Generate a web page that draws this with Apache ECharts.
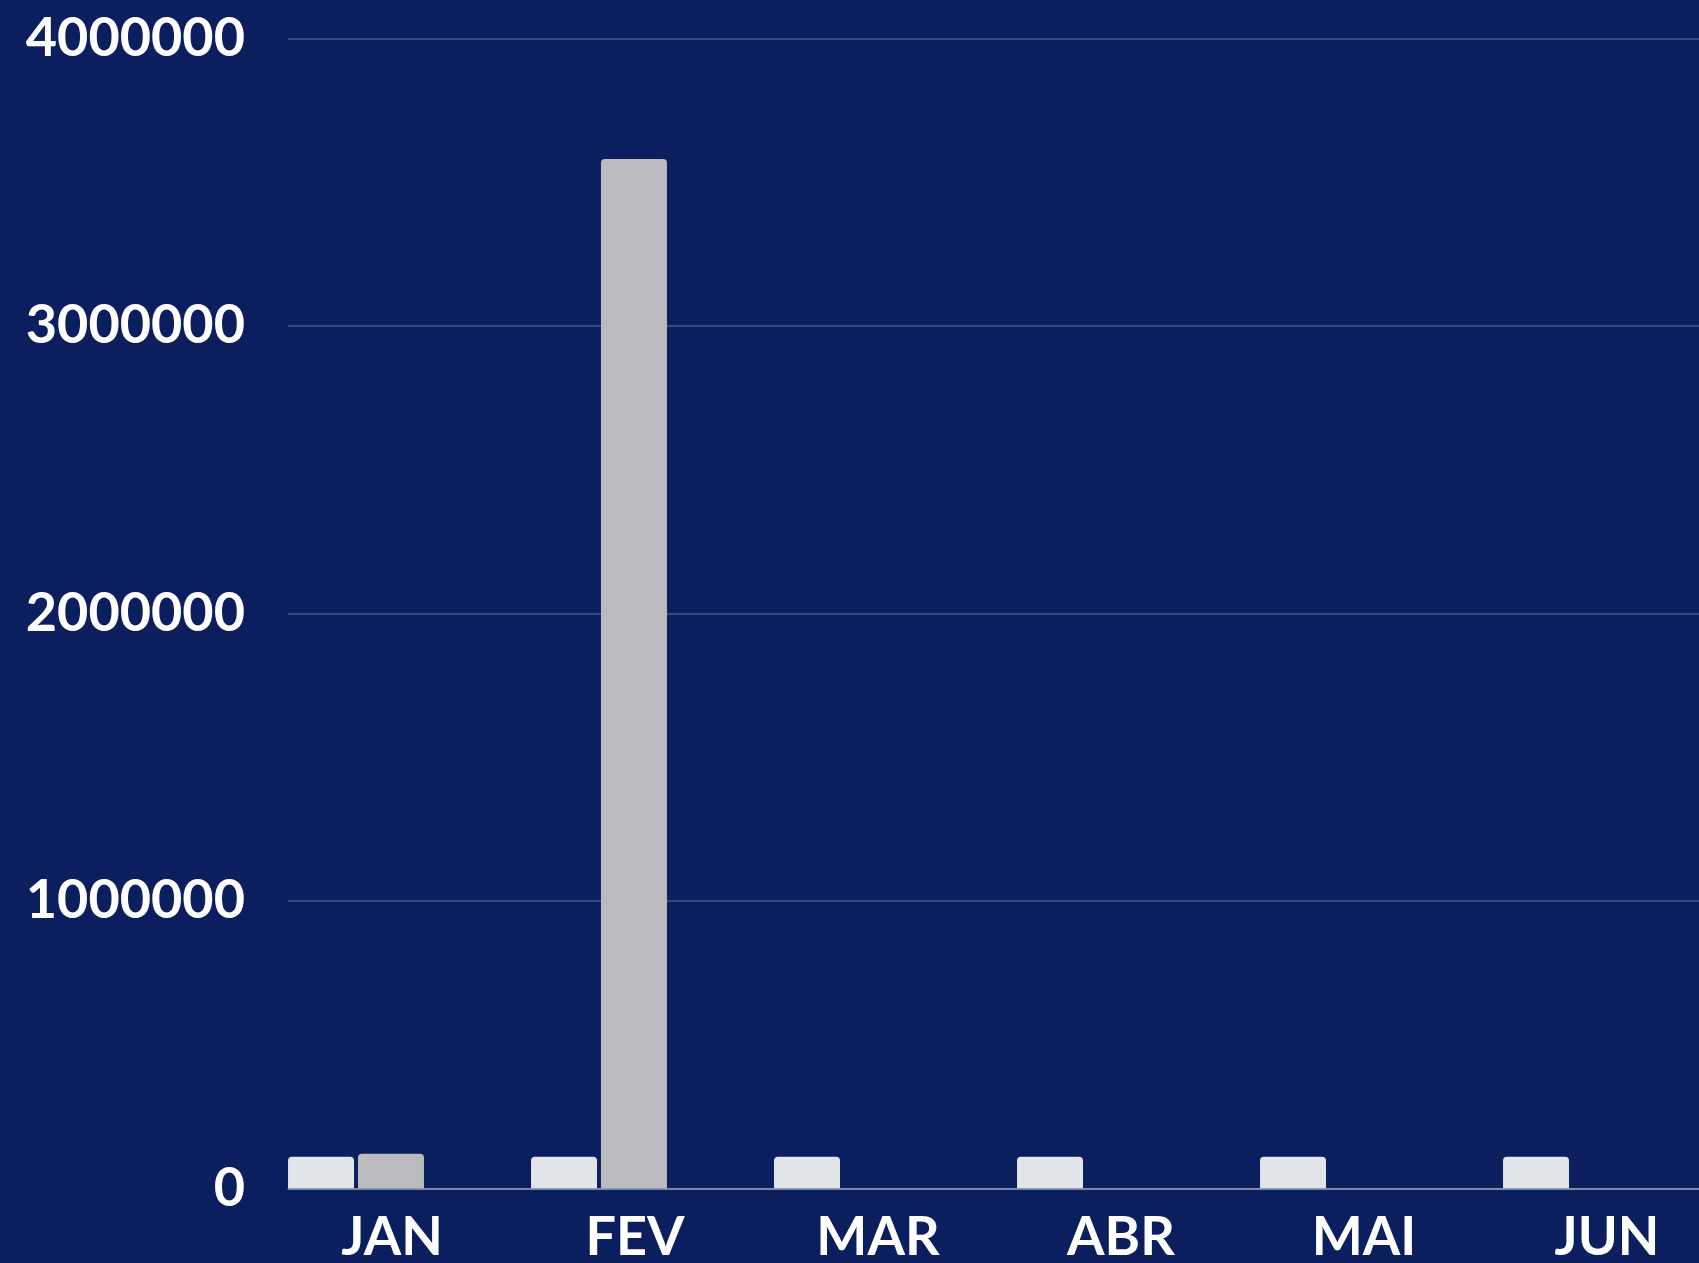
<!DOCTYPE html>
<html>
<head>
<meta charset="utf-8">
<script src="https://cdn.jsdelivr.net/npm/echarts@6/dist/echarts.min.js"></script>
<style>
html,body{margin:0;padding:0;background:#0B1F5F;}
#chart{width:1699px;height:1263px;}
</style>
</head>
<body>
<div id="chart"></div>
<script>
const categories = ['JAN', 'FEV', 'MAR', 'ABR', 'MAI', 'JUN'];
const seriesA = [110000, 110000, 110000, 110000, 110000, 110000];
const seriesB = [120000, 3580000, 0, 0, 0, 0];
const yTicks = [0, 1000000, 2000000, 3000000, 4000000];

const chart = echarts.init(document.getElementById('chart'), null, {renderer: 'canvas'});
const FONT = 'Lato, "Open Sans", sans-serif';
const TOP = 38.3, BOTTOM = 74.7, BAND_W = 1458;
const option = {
  backgroundColor: '#0B1F5F',
  animation: false,
  grid: [
    {left: 234.5, width: BAND_W, top: TOP, bottom: BOTTOM, outerBoundsMode: 'none', containLabel: false},
    {left: 288, width: BAND_W, top: TOP, bottom: BOTTOM, outerBoundsMode: 'none', containLabel: false},
    {left: 270.5, width: BAND_W, top: TOP, bottom: BOTTOM, outerBoundsMode: 'none', containLabel: false}
  ],
  xAxis: [
    {type: 'category', gridIndex: 0, data: categories, axisLine: {show: false}, axisTick: {show: false}, axisLabel: {show: false}},
    {type: 'category', gridIndex: 1, data: categories, axisLine: {show: true, lineStyle: {color: 'rgba(255,255,255,0.45)', width: 1.5}}, axisTick: {show: false}, axisLabel: {show: false}},
    {type: 'category', gridIndex: 2, data: categories, axisLine: {show: false}, axisTick: {show: false},
      axisLabel: {show: true, color: '#ffffff', fontFamily: FONT, fontWeight: 'bold', fontSize: 54, margin: 22}}
  ],
  yAxis: [
    {type: 'value', gridIndex: 0, min: yTicks[0], max: yTicks[yTicks.length-1], interval: 1000000, show: false, splitLine: {show: false}},
    {type: 'value', gridIndex: 1, min: yTicks[0], max: yTicks[yTicks.length-1], interval: 1000000,
      axisLine: {show: false}, axisTick: {show: false},
      splitLine: {show: true, lineStyle: {color: 'rgba(255,255,255,0.25)', width: 1.5}},
      axisLabel: {show: true, color: '#ffffff', fontFamily: FONT, fontWeight: 'bold', fontSize: 54, margin: 43,
        formatter: function (v) { return String(v); }}},
    {type: 'value', gridIndex: 2, min: yTicks[0], max: yTicks[yTicks.length-1], show: false, splitLine: {show: false}}
  ],
  series: [
    {type: 'bar', xAxisIndex: 0, yAxisIndex: 0, data: seriesA, barWidth: 66, barGap: '6%', z: 3,
      itemStyle: {color: '#E1E4E9', borderRadius: [4, 4, 0, 0]}},
    {type: 'bar', xAxisIndex: 0, yAxisIndex: 0, data: seriesB, barWidth: 66, barGap: '6%', z: 3,
      itemStyle: {color: '#BABBBF', borderRadius: [4, 4, 0, 0]}}
  ]
};
chart.setOption(option);
</script>
</body>
</html>
